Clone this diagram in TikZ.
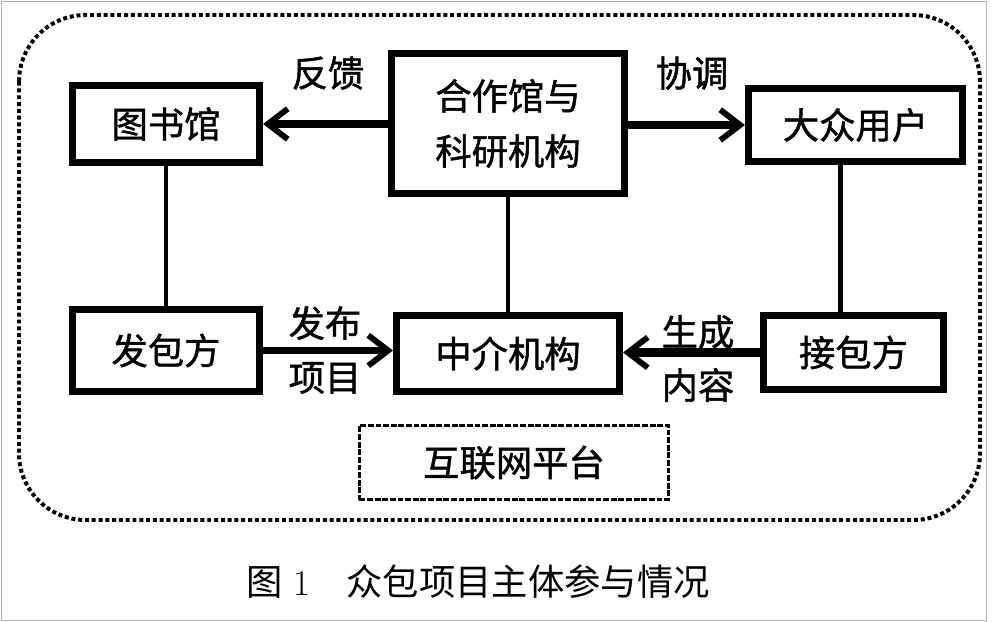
\documentclass[tikz,border=0pt]{standalone}
\usepackage{fontspec}
\newfontfamily\cjk{Noto Sans CJK SC}
\newfontfamily\cjkb[FakeBold=1.2]{Noto Sans CJK SC}
\usetikzlibrary{arrows.meta}
\begin{document}
\begin{tikzpicture}[x=0.03cm, y=-0.03cm,
    box/.style={draw, line width=6pt, font=\cjkb\fontsize{31}{47}\selectfont, align=center, inner sep=0pt},
    lbl/.style={font=\cjkb\fontsize{31}{40}\selectfont, inner sep=0pt},
    link/.style={line width=4.2pt},
    arr/.style={line width=7pt, -{Straight Barb[length=17pt,width=26pt,line width=5pt]}},
    arrthin/.style={line width=5.5pt, -{Straight Barb[length=17pt,width=26pt,line width=5pt]}}]
            \useasboundingbox (0,0) rectangle (992,621);
            \draw[gray!60, line width=0.6pt] (1,1) rectangle (986,620);
            \draw[line width=3.4pt, dash pattern=on 3.4pt off 2.4pt, rounded corners=2cm] (19,15) rectangle (980,520);
            \node[box, minimum width=5.61cm, minimum height=2.31cm] (tsg) at (166,124) {图书馆};
            \node[box, minimum width=6.99cm, minimum height=4.2cm] (hz) at (508,123.5) {合作馆与\\科研机构};
            \node[box, minimum width=6.42cm, minimum height=2.19cm] (dz) at (855.5,125) {大众用户};
            \node[box, minimum width=5.61cm, minimum height=2.46cm] (fbf) at (166,350.5) {发包方};
            \node[box, minimum width=6.69cm, minimum height=2.28cm] (zj) at (508,353.5) {中介机构};
            \node[box, minimum width=5.4cm, minimum height=2.22cm] (jbf) at (853.5,352.5) {接包方};
            \node[box, line width=2.5pt, dash pattern=on 5pt off 1.5pt, minimum width=9.27cm, minimum height=2.22cm] (hlw) at (514,462.5) {互联网平台};
            \draw[link] (tsg) -- (fbf);
            \draw[link] (hz) -- (zj);
            \draw[link] ([xshift=-0.45cm]dz.south) -- ([xshift=-0.45cm]dz.south |- jbf.north);
            \draw[arr] (hz.west |- tsg) -- (tsg.east);
            \draw[arr] (hz.east |- dz) -- (dz.west);
            \draw[arrthin] (fbf.east) -- (fbf.east -| zj.west);
            \draw[arr] (jbf.west) -- (jbf.west -| zj.east);
            \node[lbl] (fk) at (328,73) {反馈};
            \node[lbl] (xt) at (692,73) {协调};
            \node[lbl] (fb) at (325,323) {发布};
            \node[lbl] (xm) at (325,378) {项目};
            \node[lbl] (sc) at (698,332) {生成};
            \node[lbl] (nr) at (698,385) {内容};
            \node[font=\fontsize{31}{40}\selectfont] (cap) at (478,582) {{\cjk 图}\ 1\quad{\cjk 众包项目主体参与情况}};
        \end{tikzpicture}
\end{document}
